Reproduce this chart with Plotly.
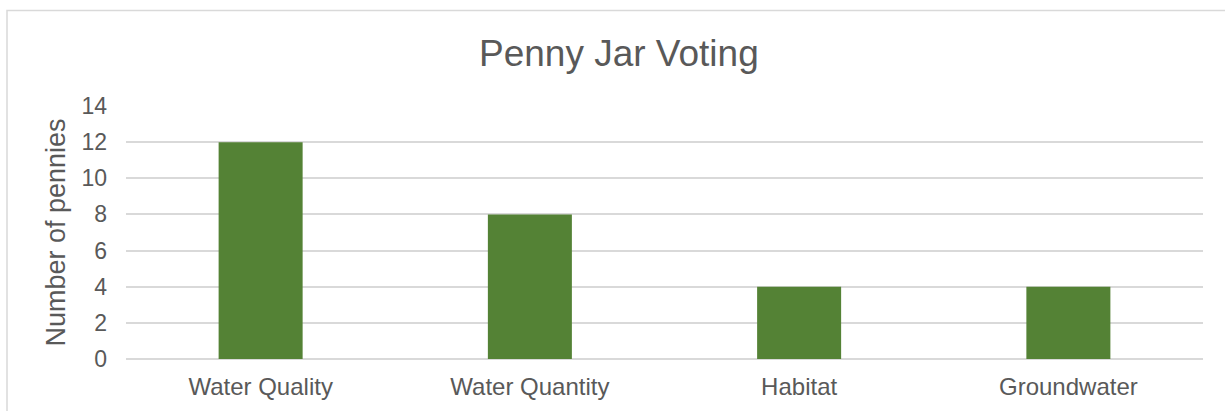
import plotly.graph_objects as go

categories = ["Water Quality", "Water Quantity", "Habitat", "Groundwater"]
pennies = [12, 8, 4, 4]
y_ticks = [0, 2, 4, 6, 8, 10, 12, 14]

TEXT = "#595959"
GRID = "#d9d9d9"
FONT = "Liberation Sans, Arial, sans-serif"

W, H = 1225, 411
L, R, T, B = 126, 22, 106, 52
pw, ph = W - L - R, H - T - B


def px_x(p):
    return (p - L) / pw


def px_y(p):
    return (H - B - p) / ph


fig = go.Figure(
    go.Bar(
        x=categories,
        y=pennies,
        marker=dict(color="#548235", line=dict(width=0)),
    )
)

fig.update_layout(
    width=W,
    height=H,
    margin=dict(l=L, r=R, t=T, b=B, pad=0),
    paper_bgcolor="white",
    plot_bgcolor="white",
    bargap=0.688,
    showlegend=False,
    font=dict(family=FONT, color=TEXT, size=23),
    xaxis=dict(
        showgrid=False,
        showline=False,
        zeroline=False,
        ticks="",
        ticklabelstandoff=11,
        tickfont=dict(size=24, color=TEXT),
        automargin=False,
    ),
    yaxis=dict(
        range=[0, 14],
        tickvals=y_ticks,
        showgrid=True,
        gridcolor=GRID,
        gridwidth=1.5,
        zeroline=True,
        zerolinecolor=GRID,
        zerolinewidth=1.5,
        showline=False,
        ticks="",
        ticklabelstandoff=18,
        tickfont=dict(size=23, color=TEXT),
        title=dict(text="Number of pennies", font=dict(size=27, color=TEXT), standoff=7),
        automargin=False,
    ),
    annotations=[
        dict(
            text="Penny Jar Voting",
            xref="paper",
            yref="paper",
            x=px_x(619),
            y=px_y(53),
            xanchor="center",
            yanchor="middle",
            showarrow=False,
            font=dict(size=37, color=TEXT, family=FONT),
        )
    ],
    shapes=[
        dict(
            type="rect",
            xref="paper",
            yref="paper",
            x0=px_x(7),
            x1=px_x(1232),
            y0=px_y(420),
            y1=px_y(10.5),
            line=dict(color=GRID, width=1.5),
            fillcolor="rgba(0,0,0,0)",
            layer="below",
        )
    ],
)

fig.write_html("out.html")
